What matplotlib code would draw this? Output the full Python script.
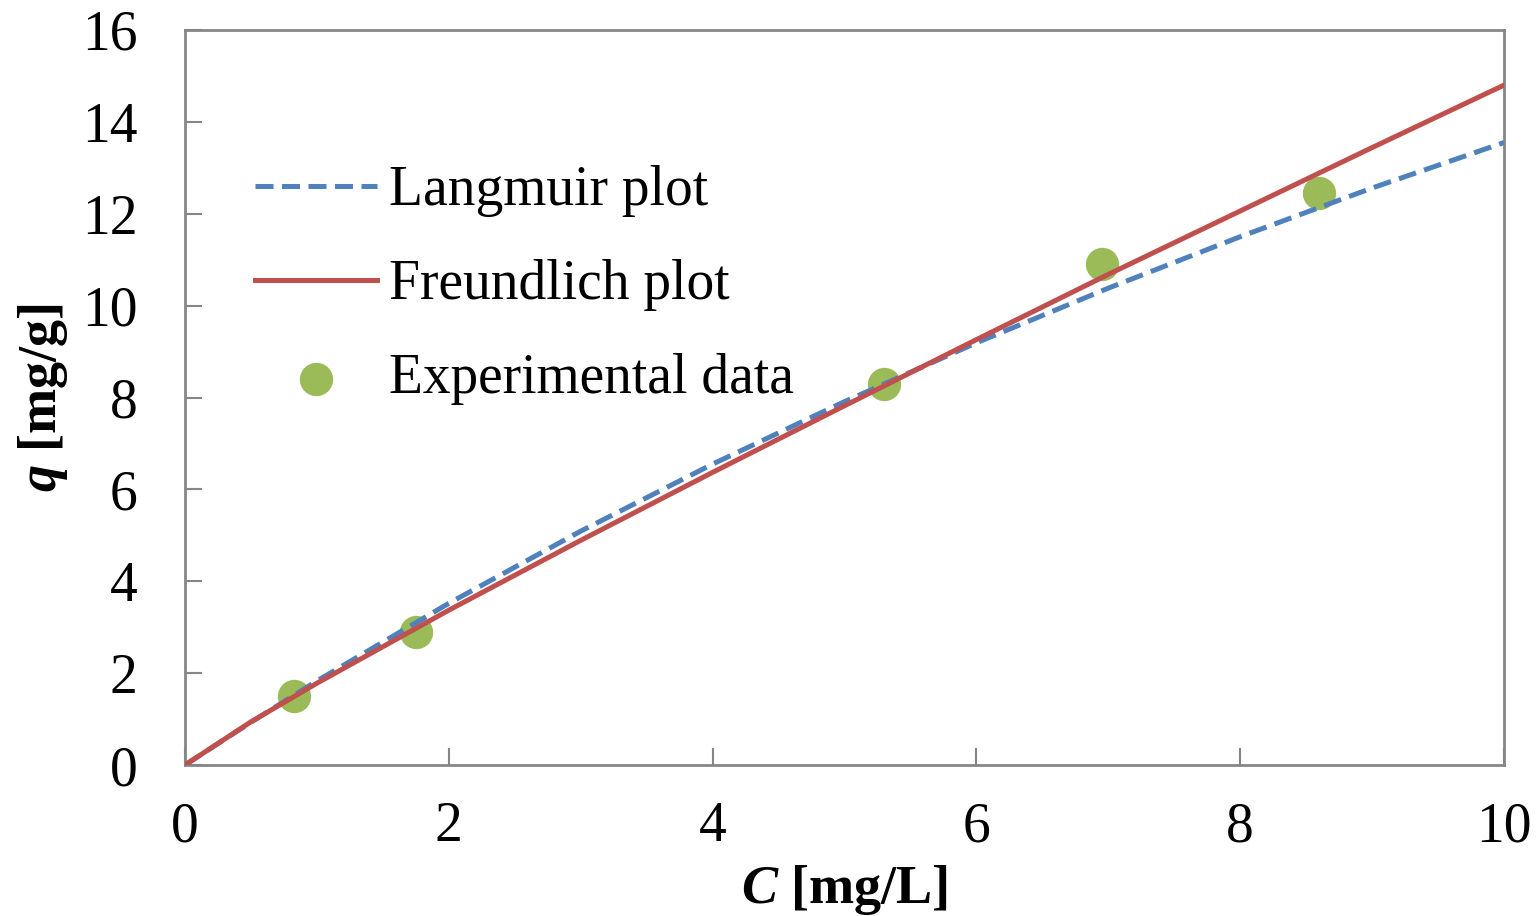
import matplotlib
matplotlib.use("Agg")
import matplotlib.pyplot as plt

# Experimental data
exp_C = [0.83, 1.75, 5.3, 6.95, 8.6]
exp_q = [1.50, 2.90, 8.30, 10.90, 12.45]

# Model curves
curve_C = [0, 0.5, 1, 2, 3, 4, 5, 6, 7, 8, 9, 10]
langmuir_q = [0, 0.93, 1.83, 3.52, 5.09, 6.55, 7.91, 9.19, 10.38, 11.50, 12.56, 13.55]
freundlich_q = [0, 0.94, 1.78, 3.37, 4.89, 6.37, 7.82, 9.26, 10.68, 12.06, 13.44, 14.80]

x_ticks = [0, 2, 4, 6, 8, 10]
y_ticks = [0, 2, 4, 6, 8, 10, 12, 14, 16]

plt.rcParams['font.family'] = ['Liberation Serif', 'DejaVu Serif']
plt.rcParams['mathtext.fontset'] = 'custom'
plt.rcParams['mathtext.it'] = 'Liberation Serif:italic:bold'
plt.rcParams['mathtext.bf'] = 'Liberation Serif:bold'

fig = plt.figure(figsize=(15.37, 9.16), dpi=100)
ax = fig.add_axes([185/1537, 1-765/916, (1504-185)/1537, (765-30)/916])

blue = '#4F81BD'
red = '#C0504D'
green = '#9BBB59'

ax.scatter(exp_C, exp_q, s=24**2, color=green, zorder=2, label='Experimental data', linewidths=0)
ax.plot(curve_C, langmuir_q, color=blue, lw=3.6, linestyle=(0, (3.6, 1.7)), zorder=3, label='Langmuir plot')
ax.plot(curve_C, freundlich_q, color=red, lw=3.6, zorder=4, label='Freundlich plot')

ax.set_xlim(0, 10)
ax.set_ylim(0, 16)
ax.set_xticks(x_ticks)
ax.set_yticks(y_ticks)
ax.tick_params(direction='in', length=12, width=1.5, color='#868686', labelsize=40)
ax.tick_params(axis='y', pad=34)
ax.tick_params(axis='x', pad=26)
for s in ax.spines.values():
    s.set_color('#868686')
    s.set_linewidth(2)

ax.set_xlabel(r'$\mathit{C}$ [mg/L]', fontsize=39, fontweight='bold')
ax.set_ylabel(r'$\mathit{q}$ [mg/g]', fontsize=39, fontweight='bold')
ax.xaxis.set_label_coords(0.5, (765-863)/735)
ax.yaxis.set_label_coords((70-185)/1319, 0.5)

h, l = ax.get_legend_handles_labels()
order = [1, 2, 0]
leg = ax.legend([h[i] for i in order], [l[i] for i in order], frameon=False, fontsize=40,
                loc='upper left', bbox_to_anchor=(255/1537, 1-165/916), bbox_transform=fig.transFigure,
                handlelength=2.2, handletextpad=0.22, labelspacing=0.76, borderaxespad=0, borderpad=0)

fig.savefig('out.png', dpi=100)
